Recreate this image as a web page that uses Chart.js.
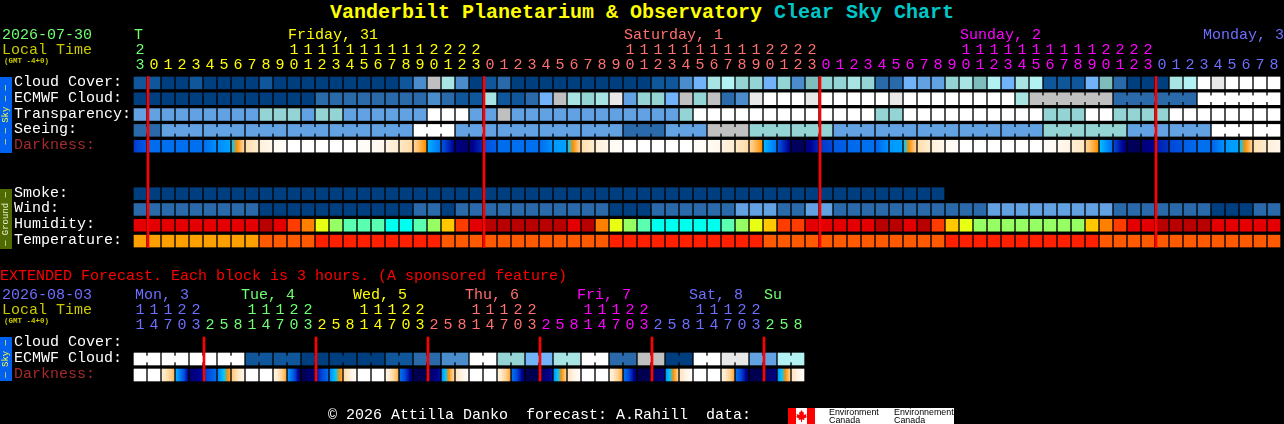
<!DOCTYPE html>
<html><head><meta charset="utf-8">
<script src="https://cdn.jsdelivr.net/npm/chart.js@4"></script>
<style>
html,body{margin:0;padding:0;background:#000;width:1284px;height:424px;overflow:hidden}
canvas{position:absolute;left:0;display:block}
.t{position:absolute;white-space:pre;font:15px/16px "Liberation Mono",monospace}
.side{position:absolute;left:0;width:12px;display:flex;align-items:center;justify-content:center}
.side span{writing-mode:vertical-rl;transform:rotate(180deg);font:9px/12px "Liberation Mono",monospace;white-space:pre}
</style></head><body>
<div class="t" style="left:330px;top:1px;font:bold 20px/24px 'Liberation Mono',monospace;color:#ffff00">Vanderbilt Planetarium &amp; Observatory <span style="color:#00c8c8">Clear Sky Chart</span></div>
<canvas id="main" width="1284" height="258" style="top:0"></canvas>
<canvas id="ext" width="1284" height="166" style="top:258px"></canvas>
<div class="t" style="left:2px;top:28px;color:#70ff70">2026-07-30</div>
<div class="t" style="left:2px;top:43px;color:#c8c800">Local Time</div>
<div class="t" style="left:4px;top:57px;font:bold 7.5px/9px 'Liberation Mono',monospace;color:#c8c800">(GMT -4+0)</div>
<div class="side" style="top:77px;height:76px;background:#0060f0;color:#ffff40"><span>— — Sky — —</span></div>
<div class="side" style="top:189px;height:60px;background:#4f6a00;color:#f0f0d0"><span>— Ground —</span></div>
<div class="t" style="left:0;top:269px;color:#ff0000">EXTENDED Forecast. Each block is 3 hours. (A sponsored feature)</div>
<div class="t" style="left:2px;top:288px;color:#6e6eff">2026-08-03</div>
<div class="t" style="left:2px;top:303px;color:#c8c800">Local Time</div>
<div class="t" style="left:4px;top:317px;font:bold 7.5px/9px 'Liberation Mono',monospace;color:#c8c800">(GMT -4+0)</div>
<div class="side" style="top:337px;height:44px;background:#0060f0;color:#ffff40"><span>— Sky —</span></div>
<div class="t" style="left:328px;top:408px;color:#ffffff">© 2026 Attilla Danko  forecast: A.Rahill  data:</div>
<div style="position:absolute;left:788px;top:408px;width:166px;height:16px;background:#fff;overflow:hidden">
 <div style="position:absolute;left:0;top:0;width:8px;height:16px;background:#ff0000"></div>
 <div style="position:absolute;left:19px;top:0;width:8px;height:16px;background:#ff0000"></div>
 <svg style="position:absolute;left:8px;top:2px" width="11" height="12" viewBox="0 0 11 12"><polygon fill="#ff0000" points="5.5,0 7,2.5 8,2 7.6,5 10.5,4 10,6 11,7 8,8.5 8.5,10 6,9.5 6,12 5,12 5,9.5 2.5,10 3,8.5 0,7 1,6 0.5,4 3.4,5 3,2 4,2.5"/></svg>
 <div class="t" style="left:41px;top:0;font:8.9px/8px 'Liberation Sans',sans-serif;color:#000">Environment
Canada</div>
 <div class="t" style="left:106px;top:0;font:8.9px/8px 'Liberation Sans',sans-serif;color:#000">Environnement
Canada</div>
</div>
<script>
// ---------- main forecast (one column per hour) ----------
const hourTens = ['2',' ',' ',' ',' ',' ',' ',' ',' ',' ',' ','1','1','1','1','1','1','1','1','1','1','2','2','2','2',' ',' ',' ',' ',' ',' ',' ',' ',' ',' ','1','1','1','1','1','1','1','1','1','1','2','2','2','2',' ',' ',' ',' ',' ',' ',' ',' ',' ',' ','1','1','1','1','1','1','1','1','1','1','2','2','2','2',' ',' ',' ',' ',' ',' ',' ',' ',' '];
const hourUnits = ['3','0','1','2','3','4','5','6','7','8','9','0','1','2','3','4','5','6','7','8','9','0','1','2','3','0','1','2','3','4','5','6','7','8','9','0','1','2','3','4','5','6','7','8','9','0','1','2','3','0','1','2','3','4','5','6','7','8','9','0','1','2','3','4','5','6','7','8','9','0','1','2','3','0','1','2','3','4','5','6','7','8'];
const cloudCover = [90,90,100,100,90,100,100,100,100,90,100,100,100,100,100,100,100,100,100,90,70,15,30,70,100,90,80,100,100,100,100,100,100,100,100,100,100,90,90,70,60,30,20,40,40,60,40,70,50,40,40,30,40,80,80,60,65,65,40,30,50,20,60,30,20,90,90,90,60,50,80,100,100,100,30,20,0,10,0,0,0,0];
const ecmwfCloud = [100,100,100,100,100,100,100,100,100,100,100,100,100,80,80,80,80,80,80,80,80,70,80,90,90,30,90,90,80,60,15,30,40,30,10,65,40,40,60,15,40,15,80,70,10,0,0,0,10,0,0,0,0,0,10,0,0,0,0,0,0,0,0,30,15,15,15,15,15,15,80,80,80,80,80,80,0,0,0,0,0,0];
const transparency = [65,65,65,65,65,65,65,65,65,40,40,40,65,40,40,65,65,65,65,65,65,0,0,0,65,65,15,65,65,65,65,65,65,65,65,65,65,65,65,40,0,0,0,0,0,0,0,0,0,0,0,0,0,40,40,0,0,0,0,0,0,0,0,0,0,40,40,40,0,0,40,40,40,40,0,0,0,0,0,0,0,0];
const seeing = [80,80,65,65,65,65,65,65,65,65,65,65,65,65,65,65,65,65,65,65,0,0,0,65,65,65,65,65,65,65,65,65,65,65,65,80,80,80,65,65,65,15,15,15,40,40,40,40,40,40,65,65,65,65,65,65,65,65,65,65,65,65,65,65,65,40,40,40,40,40,40,65,65,65,65,65,65,0,0,0,0,0];
const darkStart = [8.2,7.1,7,7,7,7.1,6.3,5,2.3,1.4,0.6,0,0,0,0,0,0.3,0.6,1.2,1.9,2.7,5.5,7.8,9.2,9.2,7.8,7.1,7,7,7.1,6,5,2.3,1.4,0.6,0,0,0,0,0,0.3,0.6,1.2,1.9,2.7,5.4,7.8,9.7,9.3,8.2,7.6,7.2,7,7.3,6,5,2.3,1.4,0.6,0,0,0,0,0,0,0.3,0.8,1.5,2.7,5.2,8,9.8,9.4,8.6,8,7.4,7,7.3,6,5,2.2,1.4];
const darkEnd = [7.6,7.1,7,7,7,6.2,5.8,2.6,1.7,0.9,0.3,0,0,0,0,0,0.5,0.9,1.6,2.4,4,6.8,9,9.6,8.4,7.4,7.1,7,7,6.2,5.8,2.7,1.7,0.9,0.3,0,0,0,0,0,0.5,0.9,1.6,2.4,4,6.8,9.1,9.9,8.5,8,7.4,7.1,7,6.2,5.8,2.7,1.7,0.9,0.3,0,0,0,0,0,0,0.6,1.2,2,4,7,9.3,9.9,9,8.3,7.7,7.2,7,6.2,5.8,2.8,1.8,1];
const smoke = [100,100,100,100,100,100,100,100,100,100,100,100,100,100,100,100,100,100,100,100,100,100,100,100,100,100,100,100,100,100,100,100,100,100,100,100,100,100,100,100,100,100,100,100,100,100,100,100,100,100,100,100,100,100,100,100,100,100];
const wind = [80,80,80,80,80,80,80,80,80,100,100,100,100,100,100,100,100,100,100,100,80,80,100,80,80,80,80,80,80,80,80,80,80,80,100,100,100,80,80,80,80,80,80,65,65,65,80,80,65,65,80,80,80,80,80,80,80,80,80,80,80,65,65,65,65,65,65,65,65,65,80,80,80,80,80,80,80,100,100,100,80,80];
const humidity = [80,80,80,80,80,80,80,80,80,90,80,70,65,55,45,35,35,35,25,25,35,45,60,70,80,90,90,90,90,90,90,80,90,65,55,45,35,25,25,25,25,25,35,45,55,60,70,70,80,80,80,80,80,90,90,80,90,70,60,55,45,45,45,45,45,45,45,45,60,65,70,80,80,90,90,90,90,80,80,80,80,80];
const temperature = [22,22,22,22,22,22,22,22,22,26,26,26,26,30,30,30,30,30,30,30,30,30,26,26,26,26,26,26,26,26,26,26,26,26,30,30,30,30,30,30,30,30,30,30,30,26,26,26,26,26,26,26,26,26,26,26,26,26,30,30,30,30,30,30,30,30,30,30,30,26,26,26,26,26,26,26,26,26,26,26,26,26];
const seeingJoins = [0,2,3,5,6,8,9,11,12,14,15,17,18,20,21,23,24,26,27,29,30,32,33,35,36,38,39,41,42,44,45,47,48,50,51,53,54,56,57,59,60,62,63,65,66,68,69,71,72,74,75,77,78,80];
const ecmwfJoins = [64,65,66,67,68,70,71,72,73,74,76,77,78,79,80];
const midnightColumns = [0.57,24.57,48.57,72.57];
const dayNames = ['T','Friday, 31','Saturday, 1','Sunday, 2','Monday, 3'];
const dayColumns = [0,11,35,59,76.36];
const dayColors = ['#70ff70','#ffff00','#ff7070','#ff00ff','#6e6eff'];
const dayFirstHour = [0,1,25,49,73];
const rowNames = ['Cloud Cover:','ECMWF Cloud:','Transparency:','Seeing:','Darkness:','','','Smoke:','Wind:','Humidity:','Temperature:'];

// ---------- extended forecast (one column per 1.5 h, blocks of 3 h) ----------
const extTens = ['1','1','1','2','2',' ',' ',' ','1','1','1','2','2',' ',' ',' ','1','1','1','2','2',' ',' ',' ','1','1','1','2','2',' ',' ',' ','1','1','1','2','2',' ',' ',' ','1','1','1','2','2',' ',' ',' '];
const extUnits = ['1','4','7','0','3','2','5','8','1','4','7','0','3','2','5','8','1','4','7','0','3','2','5','8','1','4','7','0','3','2','5','8','1','4','7','0','3','2','5','8','1','4','7','0','3','2','5','8'];
const extEcmwf = [0,0,0,0,0,0,0,0,90,90,90,90,100,100,100,100,100,100,90,90,80,80,70,70,0,0,40,40,60,60,30,30,0,0,80,80,15,15,100,100,0,0,10,10,65,65,20,20];
const extDarkStart = [0,0,1.5,5.5,9.5,8.3,6.5,3,0,0,1,6,10,8.8,6.3,2.4,0,0,1,7,10,9.8,6,2,0,0,1.2,7,10,9.8,6,2,0,0,1.2,7,10,9.8,6,2,0,0,1.2,7,10,9.8,6,2];
const extDarkEnd = [0,0,3.3,9,8.8,7.1,3.5,1,0,0,3.6,9.5,9.4,7.2,3.5,0.5,0,0,3.5,9.4,10,8.8,2.5,0.3,0,0,3.6,9.4,10,8.8,2.8,0.3,0,0,3.6,9.4,10,9.2,2.8,0.3,0,0,3.6,9.4,10,9.2,2.8,0.3];
const extJoins = [0,2,4,6,8,10,12,14,16,18,20,22,24,26,28,30,32,34,36,38,40,42,44,46];
const extMidnights = [4.57,12.57,20.57,28.57,36.57,44.57];
const extDayNames = ['Mon, 3','Tue, 4','Wed, 5','Thu, 6','Fri, 7','Sat, 8','Su'];
const extDayColumns = [0.07,7.64,15.64,23.64,31.64,39.64,45];
const extDayColors = ['#6e6eff','#70ff70','#ffff00','#ff7070','#ff00ff','#6e6eff','#70ff70'];
const extDayFirst = [0,5,13,21,29,37,45];
const extRowNames = ['Cloud Cover:','ECMWF Cloud:','Darkness:'];

// ---------- colour keys ----------
const cloudColors = {100:'#003f7f',90:'#10569a',85:'#1f62a4',80:'#2a6aaa',70:'#4b8ccc',65:'#62a2e2',60:'#72b2f8',50:'#7fbcbc',40:'#94d4d4',30:'#a8e4e4',20:'#b2f2f2',15:'#c0c0c0',10:'#e8e8e8',0:'#ffffff'};
const humidityColors = {90:'#b80000',80:'#e40000',70:'#ff3c00',65:'#ff8000',60:'#ffc800',55:'#e8ff14',45:'#96ff64',35:'#5affb0',25:'#00ffee'};
const temperatureColors = {22:'#ffa000',26:'#ff5a00',30:'#ff2000'};
const darkRamp = ['#ffffff','#fff6ea','#ffe6c0','#ffc880','#ff9000','#00c8ff','#0098ff','#0070f0','#0048d8','#000090','#000050'];

function hex(c){return [1,3,5].map(i=>parseInt(c.substr(i,2),16));}
function rampColor(v){
  const a=Math.max(0,Math.min(darkRamp.length-1,Math.floor(v))),b=Math.min(darkRamp.length-1,a+1),f=v-a;
  const A=hex(darkRamp[a]),B=hex(darkRamp[b]);
  return 'rgb('+A.map((x,i)=>Math.round(x+(B[i]-x)*f)).join(',')+')';
}
const FONT="'Liberation Mono',monospace";
const HALF=0.375, JOIN=0.1875;
const barBase={grouped:false,borderWidth:0,borderSkipped:false};
function cells(values,row,colors){
  return {...barBase,data:values.map((v,i)=>({x:i,y:[row-HALF,row+HALF]})),backgroundColor:values.map(v=>colors[v]),barThickness:12,order:2};
}
function joins(columns,values,row,colors){
  return {...barBase,data:columns.map(c=>({x:c+0.5,y:[row-JOIN,row+JOIN]})),backgroundColor:columns.map(c=>colors[values[c]]),barThickness:4,order:3};
}
function darkness(starts,ends,row){
  return {...barBase,data:starts.map((v,i)=>({x:i,y:[row-HALF,row+HALF]})),barThickness:12,order:2,
    backgroundColor(ctx){
      if(ctx.type!=='data')return '#000';
      const i=ctx.dataIndex,c=ctx.chart.scales.x.getPixelForValue(i);
      if(!isFinite(c))return '#000';
      const g=ctx.chart.ctx.createLinearGradient(c-6,0,c+6,0);
      for(let k=0;k<=12;k++){g.addColorStop(k/12,rampColor(starts[i]+(ends[i]-starts[i])*k/12));}
      return g;
    }};
}
function redLines(columns,y0,y1){
  return {...barBase,data:columns.map(c=>({x:c,y:[y0,y1]})),backgroundColor:'#ff0000',barThickness:2,order:1};
}
const dayPlugin=(names,cols,colors)=>({id:'dayNames',afterDraw(chart){
  const c=chart.ctx,x=chart.scales.x;
  c.save();c.font='15px '+FONT;c.textAlign='left';c.textBaseline='middle';
  names.forEach((n,i)=>{c.fillStyle=colors[i];c.fillText(n,x.getPixelForValue(cols[i])-6,chart.chartArea.top-40);});
  c.restore();
}});
function build(id,opts){
  const colorFor=v=>{let k=0;opts.first.forEach((f,i)=>{if(v>=f)k=i;});return opts.colors[k];};
  return new Chart(document.getElementById(id),{type:'bar',
    data:{datasets:opts.datasets},
    plugins:[dayPlugin(opts.days,opts.dayCols,opts.colors)],
    options:{responsive:false,animation:false,devicePixelRatio:1,events:[],
      layout:{padding:{left:14,right:3,top:0,bottom:opts.bottom}},
      plugins:{legend:{display:false},tooltip:{enabled:false},title:{display:false}},
      scales:{
        x:{type:'linear',position:'top',offset:false,min:-0.5,max:81.5,grid:{display:false,drawTicks:false},border:{display:false},
          afterFit(s){s.height=opts.top;},
          afterBuildTicks(s){s.ticks=opts.units.map((u,i)=>({value:i}));},
          ticks:{autoSkip:false,maxRotation:0,minRotation:0,padding:2,font:{family:FONT,size:15,lineHeight:1},
            color:c=>colorFor(c.tick.value),
            callback:(v)=>[opts.tens[v],opts.units[v]]}},
        y:{type:'linear',reverse:true,min:-0.5,max:opts.rows.length-0.5,grid:{display:false,drawTicks:false},border:{display:false},
          afterFit(s){s.width=119;},
          afterBuildTicks(s){s.ticks=opts.rows.map((r,i)=>({value:i})).filter(t=>opts.rows[t.value]);},
          ticks:{autoSkip:false,crossAlign:'far',padding:0,labelOffset:-1,font:{family:FONT,size:15},
            color:c=>opts.rows[c.tick.value]==='Darkness:'?'#a52a2a':'#ffffff',
            callback:v=>opts.rows[v]}}
      }}});
}
build('main',{top:75,bottom:7,units:hourUnits,tens:hourTens,first:dayFirstHour,colors:dayColors,days:dayNames,dayCols:dayColumns,rows:rowNames,
  datasets:[
    cells(cloudCover,0,cloudColors),
    cells(ecmwfCloud,1,cloudColors),joins(ecmwfJoins,ecmwfCloud,1,cloudColors),
    cells(transparency,2,cloudColors),
    cells(seeing,3,cloudColors),joins(seeingJoins,seeing,3,cloudColors),
    darkness(darkStart,darkEnd,4),
    cells(smoke,7,cloudColors),
    cells(wind,8,cloudColors),
    cells(humidity,9,humidityColors),
    cells(temperature,10,temperatureColors),
    redLines(midnightColumns,-0.4,10.4)
  ]});
build('ext',{top:77,bottom:41,units:extUnits,tens:extTens,first:extDayFirst,colors:extDayColors,days:extDayNames,dayCols:extDayColumns,rows:extRowNames,
  datasets:[
    cells(extEcmwf,1,cloudColors),joins(extJoins,extEcmwf,1,cloudColors),
    darkness(extDarkStart,extDarkEnd,2),
    redLines(extMidnights,-0.375,2.375)
  ]});
</script>
</body></html>
